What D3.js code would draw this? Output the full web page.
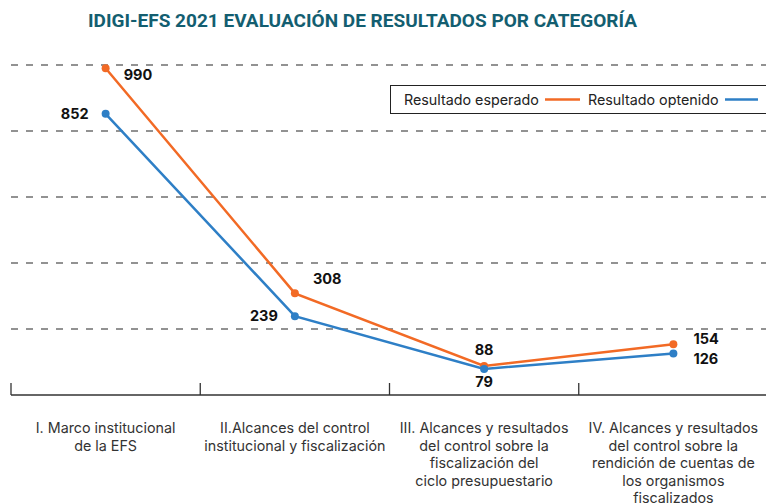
<!DOCTYPE html>
<html>
<head>
<meta charset="utf-8">
<script src="https://cdn.jsdelivr.net/npm/d3@7"></script>
<style>
  body { margin: 0; background: #fff; }
  svg { display: block; font-family: Inter, "Noto Sans", sans-serif; }
</style>
</head>
<body>
<div id="chart"></div>
<script>
// Categories (x axis), one entry per line of the label.
const categories = [
  ['I. Marco institucional', 'de la EFS'],
  ['II.Alcances del control', 'institucional y fiscalización'],
  ['III. Alcances y resultados', 'del control sobre la', 'fiscalización del', 'ciclo presupuestario'],
  ['IV. Alcances y resultados', 'del control sobre la', 'rendición de cuentas de', 'los organismos', 'fiscalizados']
]
const esperado = [990, 308, 88, 154]
const obtenido = [852, 239, 79, 126]
const gridValues = [200, 400, 600, 800, 1000]
const seriesNames = ['Resultado esperado', 'Resultado optenido']

const width = 766, height = 503
const orange = '#f26a25', blue = '#2e7fc6'

const svg = d3.select('#chart').append('svg')
  .attr('width', width)
  .attr('height', height)

// Title.
svg.append('text')
  .attr('x', 88).attr('y', 27)
  .attr('textLength', 549)
  .attr('lengthAdjust', 'spacingAndGlyphs')
  .style('font-family', 'Roboto, sans-serif')
  .style('font-weight', 700)
  .style('font-size', '18px')
  .style('fill', '#135e70')
  .text('IDIGI-EFS 2021 EVALUACIÓN DE RESULTADOS POR CATEGORÍA')

const idx = d3.range(categories.length)

const x = d3.scaleBand()
  .domain(idx)
  .range([11, 768])

const y = d3.scaleLinear()
  .domain([0, 1000])
  .range([395, 65])

// Dashed gridlines.
svg.append('g')
  .selectAll('line')
  .data(gridValues)
  .enter()
  .append('line')
    .attr('x1', 11).attr('x2', width)
    .attr('y1', d => y(d)).attr('y2', d => y(d))
    .style('stroke', '#6f6f6f')
    .style('stroke-width', 1.3)
    .style('stroke-dasharray', '7,8')

// Axis baseline with tick marks at band edges.
const axis = svg.append('g')
axis.append('line')
  .attr('x1', 11).attr('x2', width)
  .attr('y1', y(0)).attr('y2', y(0))
  .style('stroke', '#333').style('stroke-width', 1.5)
axis.selectAll('line.tick')
  .data(idx)
  .enter()
  .append('line')
    .attr('class', 'tick')
    .attr('x1', d => x(d)).attr('x2', d => x(d))
    .attr('y1', y(0) - 12).attr('y2', y(0))
    .style('stroke', '#333').style('stroke-width', 1.3)

// Category labels.
const labels = svg.append('g')
categories.forEach((lines, i) => {
  const t = labels.append('text')
    .attr('text-anchor', 'middle')
    .style('font-size', '14.3px')
    .style('fill', '#333')
  lines.forEach((line, j) => {
    t.append('tspan')
      .attr('x', x(i) + x.bandwidth() / 2)
      .attr('y', 433 + j * 17.5)
      .text(line)
  })
})

const cx = i => x(i) + x.bandwidth() / 2
const line = d3.line()
  .x((d, i) => cx(i))
  .y(d => y(d))

function drawSeries(values, colour) {
  svg.append('path')
    .datum(values)
    .attr('d', line)
    .style('fill', 'none')
    .style('stroke', colour)
    .style('stroke-width', 2.5)
  svg.append('g')
    .selectAll('circle')
    .data(values)
    .enter()
    .append('circle')
      .attr('cx', (d, i) => cx(i))
      .attr('cy', d => y(d))
      .attr('r', 4)
      .style('fill', colour)
}
drawSeries(esperado, orange)
drawSeries(obtenido, blue)

// Value labels (offsets per point, as in the original layout).
const labelStyle = sel => sel
  .style('font-weight', 700)
  .style('font-size', '14.5px')
  .style('fill', '#111')

const espOffsets = [[18, 12, 'start'], [18, -9, 'start'], [0, -11, 'middle'], [20, 0, 'start']]
const obtOffsets = [[-17, 5, 'end'], [-17, 5, 'end'], [0, 18, 'middle'], [20, 11, 'start']]

svg.append('g').selectAll('text')
  .data(esperado)
  .enter()
  .append('text')
    .attr('x', (d, i) => cx(i) + espOffsets[i][0])
    .attr('y', (d, i) => y(d) + espOffsets[i][1])
    .attr('text-anchor', (d, i) => espOffsets[i][2])
    .call(labelStyle)
    .text(d => d)

svg.append('g').selectAll('text')
  .data(obtenido)
  .enter()
  .append('text')
    .attr('x', (d, i) => cx(i) + obtOffsets[i][0])
    .attr('y', (d, i) => y(d) + obtOffsets[i][1])
    .attr('text-anchor', (d, i) => obtOffsets[i][2])
    .call(labelStyle)
    .text(d => d)

// Legend box.
const legend = svg.append('g')
legend.append('rect')
  .attr('x', 390.5).attr('y', 85.5)
  .attr('width', 390).attr('height', 28)
  .style('fill', '#fff')
  .style('stroke', '#222')
  .style('stroke-width', 1)
const legendItems = [
  { name: seriesNames[0], colour: orange, tx: 404, lx1: 545, lx2: 580 },
  { name: seriesNames[1], colour: blue, tx: 588, lx1: 725, lx2: 758 }
]
legendItems.forEach(item => {
  legend.append('text')
    .attr('x', item.tx).attr('y', 104.5)
    .style('font-size', '14.3px')
    .style('fill', '#222')
    .text(item.name)
  legend.append('line')
    .attr('x1', item.lx1).attr('x2', item.lx2)
    .attr('y1', 99.5).attr('y2', 99.5)
    .style('stroke', item.colour)
    .style('stroke-width', 2.5)
})
</script>
</body>
</html>
